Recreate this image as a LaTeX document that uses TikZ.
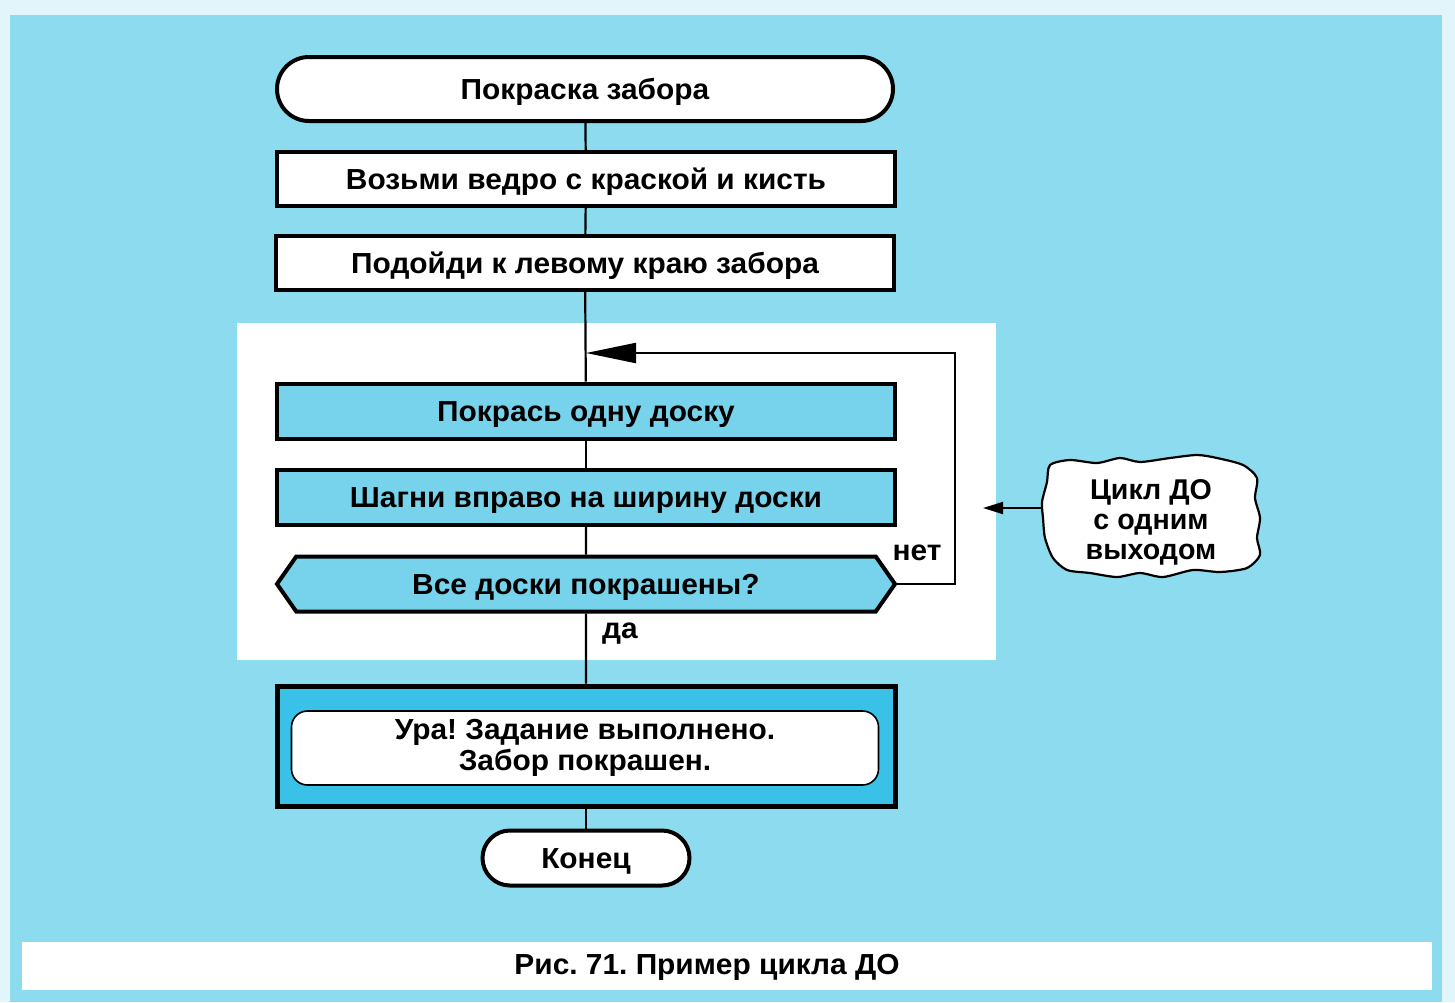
\documentclass[tikz,border=0pt]{standalone}
\usepackage{fontspec}
\setmainfont{Liberation Sans}[FakeStretch=1.03]
\newfontfamily\calloutfont{Liberation Sans}
\usetikzlibrary{shapes.misc,shapes.symbols,arrows.meta,calc}
\frenchspacing

\definecolor{pagecyan}{RGB}{140,219,238}
\definecolor{boxcyan}{RGB}{118,211,235}
\definecolor{deepcyan}{RGB}{58,193,231}
\definecolor{paleedge}{RGB}{226,245,250}

\tikzset{
  flowbox/.style={draw=black, line width=2pt, rectangle, minimum width=309pt,
    minimum height=27pt, inner sep=0pt, text height=11.5pt, text depth=1pt},
  terminal/.style={draw=black, line width=2pt, rounded rectangle, inner sep=0pt,
    text height=11.5pt, text depth=1pt},
  conn/.style={draw=black, line width=1.1pt},
  branch/.style={inner sep=0pt},
}

\begin{document}
\begin{tikzpicture}[x=0.5pt, y=-0.5pt, font=\bfseries\fontsize{14.5}{15.5}\selectfont]
  \useasboundingbox (0,0) rectangle (1455,1002);

  % page background and caption band
  \fill[paleedge] (0,0) rectangle (1455,1002);
  \fill[pagecyan] (10,15) rectangle (1442,1002);
  \fill[white] (22,942) rectangle (1432,990);
  % light panel behind the loop body
  \fill[white] (237,323) rectangle (996,660);

  % flowchart blocks
  \node[terminal, fill=white, minimum width=308pt, minimum height=32pt] (start) at (585,89) {Покраска забора};
  \node[flowbox, fill=white] (take) at (586,179) {Возьми ведро с краской и кисть};
  \node[flowbox, fill=white] (go) at (585,263) {Подойди к левому краю забора};
  \node[flowbox, fill=boxcyan, minimum height=27.5pt] (paint) at (586,411) {Покрась одну доску};
  \node[flowbox, fill=boxcyan, minimum height=27.5pt] (stepright) at (586,497) {Шагни вправо на ширину доски};
  \node[draw=black, line width=2pt, fill=boxcyan, signal, signal to=west and east,
        signal pointer angle=110, minimum width=309pt, minimum height=27.5pt, inner sep=0pt,
        text height=11.5pt, text depth=1pt]
        (check) at (586,584) {Все доски покрашены?};
  \node[flowbox, fill=deepcyan, line width=2.5pt, minimum height=60pt] (done) at (586,746) {};
  \node[draw=black, line width=0.8pt, fill=white, rounded corners=8pt, minimum width=293.5pt,
        minimum height=37pt, align=center, inner sep=0pt] (message) at (585,748)
        {Ура! Задание выполнено.\\Забор покрашен.};
  \node[terminal, fill=white, minimum width=103.5pt, minimum height=27.5pt] (end) at (586,858) {Конец};

  % branch labels
  \node[branch] (no) at (917,553) {нет};
  \node[branch] (yes) at (620,634) {да};

  % connectors
  \coordinate (looptop) at (955,353);
  \coordinate (join) at (586,353);
  \draw[conn] (start) -- (take);
  \draw[conn] (take) -- (go);
  \draw[conn] (go) -- (paint);
  \draw[conn] (paint) -- (stepright);
  \draw[conn] (stepright) -- (check);
  \draw[conn] (check) -- (done);
  \draw[conn] (done) -- (end);
  \draw[conn, -{Triangle[length=25pt, width=10pt]}] (check.east) -| (looptop) -- (join);

  % callout: hand-drawn blob with its text
  \draw[black, line width=1.1pt, fill=white, line join=round]
    plot[smooth cycle, tension=0.45] coordinates {
      (1050,465) (1070,460) (1097,463) (1120,458) (1140,462) (1170,458) (1197,455)
      (1217,458) (1243,465) (1257,478) (1255,498) (1260,518) (1257,538) (1260,555)
      (1247,568) (1220,572) (1193,570) (1163,577) (1140,573) (1117,577) (1090,573)
      (1067,570) (1053,558) (1045,538) (1043,518) (1042,502) (1047,482)};
  \node[align=center, inner sep=0pt, minimum width=108pt, minimum height=58pt,
        font=\calloutfont\bfseries\fontsize{14.3}{15}\selectfont] (callout) at (1151,522)
        {Цикл ДО\\с одним\\выходом};
  \coordinate (calltip) at (983,508);
  \draw[black, line width=1pt, -{Triangle[length=10pt, width=6pt]}] (callout.west |- calltip) -- (calltip);

  % caption
  \node[inner sep=0pt] (caption) at (707,967) {Рис. 71. Пример цикла ДО};
\end{tikzpicture}
\end{document}
